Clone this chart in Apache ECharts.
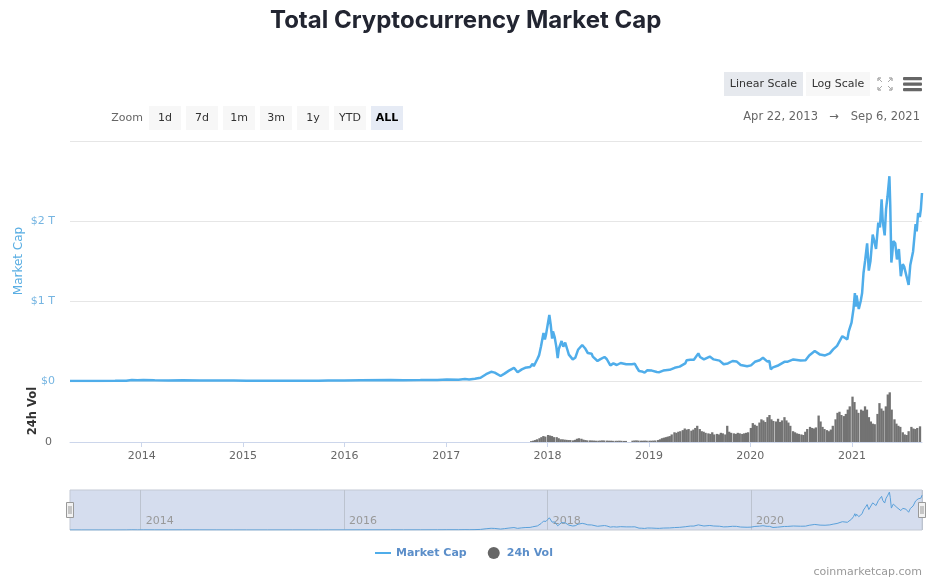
<!DOCTYPE html>
<html><head><meta charset="utf-8">
<script src="https://cdn.jsdelivr.net/npm/echarts@6/dist/echarts.min.js"></script>
<style>html,body{margin:0;padding:0;background:#fff}#c{width:943px;height:584px}</style>
</head><body><div id="c"></div>
<script>
// ---------- DATA ----------
const chartTitle = 'Total Cryptocurrency Market Cap';
const startDate = '2013-04-22';
const endDate = '2021-09-06';
const capTickLabels = ['$0', '$1 T', '$2 T', ''];
const volTickLabels = ['0', ''];
const zoomButtons = ['1d', '7d', '1m', '3m', '1y', 'YTD', 'ALL'];
const scaleButtons = ['Linear Scale', 'Log Scale'];
const rangeFrom = 'Apr 22, 2013';
const rangeTo = 'Sep 6, 2021';

// Total market cap, $ billions
const marketCap = [
  ['2013-04-22',1.5],['2013-06-01',1.3],['2013-08-01',1.3],['2013-10-01',1.7],['2013-11-10',4],
  ['2013-11-30',13],['2013-12-04',15],['2013-12-20',8],['2014-01-10',11],['2014-02-20',8],
  ['2014-04-10',5.5],['2014-06-01',8],['2014-08-01',7.5],['2014-10-01',5.5],['2014-12-01',5],
  ['2015-01-15',3.5],['2015-04-01',3.8],['2015-07-01',4.3],['2015-10-01',3.9],['2015-11-05',6.5],
  ['2016-01-01',7],['2016-03-01',8.5],['2016-06-16',11.5],['2016-08-01',10],['2016-10-01',11],
  ['2016-12-01',13],['2017-01-04',18],['2017-02-15',17],['2017-03-10',24],['2017-03-25',20],
  ['2017-04-15',27],['2017-05-05',40],['2017-05-25',85],['2017-06-12',115],['2017-06-25',105],
  ['2017-07-16',62],['2017-07-30',92],['2017-08-15',130],['2017-09-02',165],['2017-09-15',110],
  ['2017-09-30',145],['2017-10-12',165],['2017-10-30',175],['2017-11-08',215],['2017-11-12',185],
  ['2017-11-25',275],['2017-12-01',320],['2017-12-08',430],['2017-12-17',600],['2017-12-22',520],
  ['2017-12-26',580],['2017-12-30',560],['2018-01-07',825],['2018-01-12',700],['2018-01-17',530],
  ['2018-01-20',620],['2018-01-26',550],['2018-02-01',430],['2018-02-06',285],['2018-02-10',400],
  ['2018-02-20',500],['2018-02-26',430],['2018-03-05',480],['2018-03-12',400],['2018-03-18',330],
  ['2018-03-25',350],['2018-04-01',270],['2018-04-10',290],['2018-04-20',390],['2018-05-05',450],
  ['2018-05-15',410],['2018-05-25',350],['2018-06-08',340],['2018-06-12',305],['2018-06-29',250],
  ['2018-07-08',270],['2018-07-24',300],['2018-08-01',275],['2018-08-14',195],['2018-08-25',220],
  ['2018-09-06',200],['2018-09-20',225],['2018-10-10',210],['2018-10-30',210],['2018-11-10',215],
  ['2018-11-16',175],['2018-11-25',125],['2018-12-05',120],['2018-12-15',105],['2018-12-25',135],
  ['2019-01-10',130],['2019-01-28',112],['2019-02-06',110],['2019-02-20',130],['2019-03-15',140],
  ['2019-04-02',165],['2019-04-20',180],['2019-05-10',220],['2019-05-15',260],['2019-05-28',265],
  ['2019-06-10',265],['2019-06-26',345],['2019-07-02',300],['2019-07-16',270],['2019-08-06',305],
  ['2019-08-20',270],['2019-09-10',255],['2019-09-25',210],['2019-10-10',220],['2019-10-27',250],
  ['2019-11-10',245],['2019-11-25',200],['2019-12-18',185],['2020-01-01',195],['2020-01-15',240],
  ['2020-02-01',260],['2020-02-13',290],['2020-02-28',245],['2020-03-07',250],['2020-03-12',145],
  ['2020-03-20',170],['2020-04-05',190],['2020-04-30',240],['2020-05-10',240],['2020-06-01',270],
  ['2020-06-27',255],['2020-07-15',260],['2020-07-28',320],['2020-08-17',375],['2020-09-05',330],
  ['2020-09-23',320],['2020-10-10',345],['2020-10-22',395],['2020-11-05',440],['2020-11-24',560],
  ['2020-12-01',540],['2020-12-12',520],['2020-12-17',620],['2020-12-27',730],['2021-01-03',900],
  ['2021-01-08',1100],['2021-01-11',930],['2021-01-14',1070],['2021-01-22',900],['2021-01-29',1000],
  ['2021-02-03',1100],['2021-02-08',1350],['2021-02-14',1510],['2021-02-21',1720],['2021-02-27',1380],
  ['2021-03-05',1500],['2021-03-13',1830],['2021-03-18',1760],['2021-03-25',1650],['2021-04-02',1980],
  ['2021-04-08',1920],['2021-04-14',2270],['2021-04-18',2000],['2021-04-25',1820],['2021-04-30',2150],
  ['2021-05-05',2300],['2021-05-12',2560],['2021-05-15',2200],['2021-05-19',1480],['2021-05-22',1580],
  ['2021-05-26',1750],['2021-06-02',1720],['2021-06-08',1520],['2021-06-15',1650],['2021-06-22',1310],
  ['2021-06-29',1460],['2021-07-04',1430],['2021-07-10',1410],['2021-07-20',1200],['2021-07-26',1450],
  ['2021-08-05',1620],['2021-08-14',1960],['2021-08-18',1870],['2021-08-23',2100],['2021-08-29',2050],
  ['2021-09-02',2150],['2021-09-06',2350]
];

// 24h volume, $ billions, weekly readings per month, starting Nov 2017
const volFirstMonth = [2017, 11];
const volWeekly = [
  [8,12,18,25],[35,45,55,50],
  [65,60,55,45],[45,35,25,25],[22,20,18,18],[15,20,30,35],[30,22,18,15],[15,14,13,12],
  [12,13,15,14],[13,12,12,11],[11,11,12,11],[10,10,0,0],[12,14,15,13],[12,12,13,12],
  [12,12,13,14],[18,25,35,40],[45,50,55,70],[90,85,95,100],[110,125,115,120],[105,115,130,150],
  [120,100,95,85],[80,75,90,70],[75,70,85,80],[70,150,95,85],[80,75,85,80],[75,80,85,90],
  [130,175,160,150],[180,210,200,185],[230,250,210,195],[190,215,185,200],[230,200,180,150],[100,90,80,75],
  [70,65,95,120],[140,130,125,135],[245,190,140,120],[110,100,115,150],[210,270,280,250],[240,260,300,330],
  [420,370,300,270],[300,290,330,300],[230,190,170,165],[260,360,310,290],[330,440,460,300],[210,170,150,140],
  [90,70,65,100],[140,125,120,130],[145]
];

// ---------- BUILD ----------
const FONT = 'DejaVu Sans';
const DAY = 86400000, YEAR = 365 * DAY;
const volData = [];
volWeekly.forEach((weeks, mi) => {
  const y = volFirstMonth[0] + Math.floor((volFirstMonth[1] - 1 + mi) / 12);
  const m = (volFirstMonth[1] - 1 + mi) % 12;
  weeks.forEach((v, wi) => { if (v > 0) volData.push([new Date(y, m, 3 + 7 * wi).getTime(), v]); });
});

const graphics = [];
// scale buttons
const sbX = [724, 806], sbW = [79, 64];
scaleButtons.forEach((t, i) => {
  graphics.push({type:'rect', shape:{x:sbX[i], y:72, width:sbW[i], height:24}, style:{fill: i === 0 ? '#e6e9ee' : '#f7f7f7'}});
  graphics.push({type:'text', style:{text:t, x:sbX[i] + sbW[i] / 2, y:84, font:'11px ' + FONT, fill:'#333', textAlign:'center', textVerticalAlign:'middle'}});
});
// fullscreen icon
const fc = [885, 84];
[[-1,-1],[1,-1],[-1,1],[1,1]].forEach(([sx, sy]) => {
  const cx = fc[0] + sx * 7, cy = fc[1] + sy * 6;
  graphics.push({type:'polyline', shape:{points:[[cx - sx * 3, cy], [cx, cy], [cx, cy - sy * 3]]}, style:{stroke:'#888', lineWidth:1, fill:null}});
  graphics.push({type:'line', shape:{x1:cx, y1:cy, x2:cx - sx * 4, y2:cy - sy * 4}, style:{stroke:'#aaa', lineWidth:1}});
});
// hamburger
[77, 82.5, 88].forEach(y => graphics.push({type:'rect', shape:{x:903, y:y, width:19, height:3.2, r:1}, style:{fill:'#666'}}));
// zoom row
graphics.push({type:'text', style:{text:'Zoom', x:127, y:118, font:'11px ' + FONT, fill:'#666', textAlign:'center', textVerticalAlign:'middle'}});
zoomButtons.forEach((t, i) => {
  const x = 149 + i * 37;
  const sel = t === 'ALL';
  graphics.push({type:'rect', shape:{x:x, y:106, width:32, height:24}, style:{fill: sel ? '#e6ebf5' : '#f7f7f7'}});
  graphics.push({type:'text', style:{text:t, x:x + 16, y:118, font:(sel ? 'bold ' : '') + '11px ' + FONT, fill: sel ? '#000' : '#333', textAlign:'center', textVerticalAlign:'middle'}});
});
// date range
graphics.push({type:'text', style:{text:rangeFrom, x:818, y:117, font:'11.5px ' + FONT, fill:'#666', textAlign:'right', textVerticalAlign:'middle'}});
graphics.push({type:'text', style:{text:'→', x:834, y:117, font:'11.5px ' + FONT, fill:'#666', textAlign:'center', textVerticalAlign:'middle'}});
graphics.push({type:'text', style:{text:rangeTo, x:920, y:117, font:'11.5px ' + FONT, fill:'#666', textAlign:'right', textVerticalAlign:'middle'}});
// navigator handles
[70, 922].forEach(hx => {
  graphics.push({type:'rect', shape:{x:hx - 3.5, y:502.5, width:7, height:15}, style:{fill:'#f2f2f2', stroke:'#999', lineWidth:1}, z:10});
  graphics.push({type:'line', shape:{x1:hx - 1, y1:506, x2:hx - 1, y2:514}, style:{stroke:'#999', lineWidth:1}, z:11});
  graphics.push({type:'line', shape:{x1:hx + 1, y1:506, x2:hx + 1, y2:514}, style:{stroke:'#999', lineWidth:1}, z:11});
});
// credit
graphics.push({type:'text', style:{text:'coinmarketcap.com', x:922, y:572, font:'11px ' + FONT, fill:'#999', textAlign:'right', textVerticalAlign:'middle'}});

const chart = echarts.init(document.getElementById('c'));
chart.setOption({
  animation: false,
  backgroundColor: '#fff',
  title: {
    text: chartTitle, left: 265, top: 4, padding: 5,
    textStyle: {fontFamily: 'Inter', fontWeight: 'bold', fontSize: 24, color: '#222531'}
  },
  legend: {
    left: 375, top: 547, padding: 0, itemGap: 21, itemWidth: 16, itemHeight: 12,
    textStyle: {fontFamily: FONT, fontWeight: 'bold', fontSize: 11, color: '#5b8ec9'},
    data: [{name: 'Market Cap', icon: 'path://M0,0H16V2H0Z'}, {name: '24h Vol', icon: 'circle', itemStyle: {color: '#666'}}]
  },
  grid: [
    {left: 70, right: 21, top: 141, height: 240},
    {left: 70, right: 21, top: 388, height: 54},
    {left: 70, right: 21, top: 490, height: 40, show: true, backgroundColor: '#d5ddee', borderColor: '#c3c9d4', borderWidth: 1}
  ],
  xAxis: [
    {type: 'time', gridIndex: 0, min: startDate, max: endDate, show: false},
    {type: 'time', gridIndex: 1, min: startDate, max: endDate, minInterval: YEAR, maxInterval: YEAR + 2 * DAY,
      axisLine: {lineStyle: {color: '#ccd6eb'}},
      axisTick: {show: true, length: 5, lineStyle: {color: '#ccd6eb'}},
      axisLabel: {formatter: '{yyyy}', color: '#666', fontSize: 11, fontFamily: FONT, margin: 9},
      splitLine: {show: false}},
    {type: 'time', gridIndex: 2, min: startDate, max: endDate, minInterval: YEAR, maxInterval: YEAR + 2 * DAY,
      axisLine: {show: false}, axisTick: {show: false},
      axisLabel: {formatter: v => { const y = new Date(v).getFullYear(); return y % 2 === 0 ? String(y) : ''; },
        inside: true, color: '#999', fontSize: 11, fontFamily: FONT, margin: 3, align: 'left', padding: [0, 0, 0, 5]},
      splitLine: {show: true, lineStyle: {color: ['rgba(0,0,0,0)', '#bcc3cf'], width: 1}}}
  ],
  yAxis: [
    {type: 'value', gridIndex: 0, min: 0, max: 3000, interval: 1000,
      name: 'Market Cap', nameLocation: 'middle', nameGap: 45, nameRotate: 90, nameMoveOverlap: false,
      nameTextStyle: {color: '#5aaee3', fontSize: 12, fontFamily: FONT},
      axisLine: {show: false}, axisTick: {show: false},
      axisLabel: {formatter: (v, i) => capTickLabels[i], color: '#75b5e2', fontSize: 11, fontFamily: FONT, margin: 15},
      splitLine: {lineStyle: {color: '#e6e6e6'}}},
    {type: 'value', gridIndex: 1, min: 0, max: 500, interval: 500,
      name: '24h Vol', nameLocation: 'middle', nameGap: 31, nameRotate: 90, nameMoveOverlap: false,
      nameTextStyle: {color: '#333', fontSize: 11.5, fontWeight: 'bold', fontFamily: FONT, padding: [0, 0, 0, 8]},
      axisLine: {show: false}, axisTick: {show: false},
      axisLabel: {formatter: (v, i) => volTickLabels[i], color: '#666', fontSize: 11, fontFamily: FONT, margin: 18},
      splitLine: {show: false}},
    {type: 'value', gridIndex: 2, min: 0, max: 2700, show: false}
  ],
  series: [
    {name: 'Market Cap', type: 'line', xAxisIndex: 0, yAxisIndex: 0, data: marketCap, symbol: 'none',
      lineStyle: {width: 2.5, color: '#4fadea'}, itemStyle: {color: '#4fadea'}},
    {name: '24h Vol', type: 'bar', xAxisIndex: 1, yAxisIndex: 1, data: volData, barWidth: 2.3,
      itemStyle: {color: '#737373'}},
    {name: 'Navigator', type: 'line', xAxisIndex: 2, yAxisIndex: 2, data: marketCap, symbol: 'none', silent: true,
      lineStyle: {width: 1, color: '#5aa0da'}}
  ],
  graphic: graphics
});
</script></body></html>
